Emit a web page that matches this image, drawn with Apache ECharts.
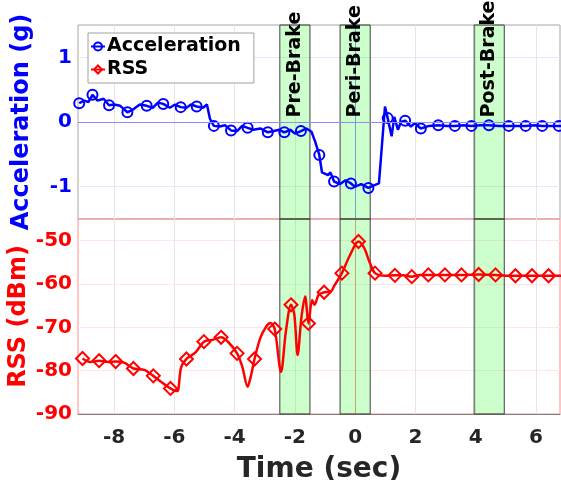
<!DOCTYPE html>
<html>
<head>
<meta charset="utf-8">
<script src="https://cdn.jsdelivr.net/npm/echarts@6/dist/echarts.min.js"></script>
<style>
  html, body { margin: 0; padding: 0; background: #fff; }
  #main { width: 561px; height: 480px; }
</style>
</head>
<body>
<div id="main"></div>
<script>
// acceleration trace (g), 1 = point carries a marker
var accT = [-9.16, -9.0, -8.85, -8.72, -8.55, -8.35, -8.17, -8.0, -7.8, -7.56, -7.35, -7.15, -6.92, -6.72, -6.55, -6.37,
  -6.15, -5.98, -5.79, -5.6, -5.45, -5.26, -5.05, -4.92, -4.82, -4.69, -4.5, -4.32, -4.12, -3.92, -3.75, -3.57,
  -3.38, -3.15, -2.9, -2.7, -2.52, -2.35, -2.15, -2.0, -1.8, -1.62, -1.45, -1.33, -1.19, -1.1, -0.9, -0.82,
  -0.7, -0.5, -0.32, -0.14, 0.0, 0.2, 0.44, 0.62, 0.79, 0.99, 1.08, 1.21, 1.3, 1.42, 1.52, 1.66, 1.85, 1.98,
  2.18, 2.45, 2.76, 3.05, 3.31, 3.6, 3.86, 4.15, 4.44, 4.78, 5.1, 5.38, 5.66, 5.95, 6.21, 6.5, 6.76, 6.9];
var accV = [0.29, 0.33, 0.31, 0.42, 0.33, 0.36, 0.26, 0.27, 0.25, 0.15, 0.2, 0.27, 0.25, 0.22, 0.3, 0.28,
  0.22, 0.27, 0.23, 0.22, 0.27, 0.24, 0.22, 0.27, 0.05, -0.06, -0.07, -0.05, -0.13, -0.14, -0.06, -0.09,
  -0.12, -0.1, -0.16, -0.14, -0.12, -0.16, -0.12, -0.18, -0.14, -0.1, -0.15, -0.3, -0.51, -0.78, -0.82, -0.78,
  -0.92, -0.96, -0.9, -0.95, -1.0, -0.96, -1.02, -0.98, -0.95, 0.24, 0.06, -0.22, 0.08, -0.12, 0.0, 0.02, -0.07, -0.02,
  -0.1, -0.06, -0.05, -0.06, -0.06, -0.05, -0.06, -0.05, -0.05, -0.06, -0.06, -0.06, -0.06, -0.05, -0.06, -0.06, -0.06, -0.06];
var accMark = [1, 0, 0, 1, 0, 0, 1, 0, 0, 1, 0, 0, 1, 0, 0, 1,
  0, 0, 1, 0, 0, 1, 0, 0, 0, 1, 0, 0, 1, 0, 0, 1,
  0, 0, 1, 0, 0, 1, 0, 0, 1, 0, 0, 0, 1, 0, 0, 0,
  1, 0, 0, 1, 0, 0, 1, 0, 0, 0, 1, 0, 0, 0, 0, 1, 0, 0,
  1, 0, 1, 0, 1, 0, 1, 0, 1, 0, 1, 0, 1, 0, 1, 0, 1, 0];

// received signal strength (dBm)
var rssT = [-9.05, -8.8, -8.5, -8.2, -7.95, -7.65, -7.36, -7.0, -6.7, -6.4, -6.13, -5.95, -5.88, -5.78, -5.6, -5.3,
  -5.02, -4.75, -4.45, -4.2, -3.92, -3.75, -3.57, -3.47, -3.34, -3.15, -2.95, -2.81, -2.67, -2.46, -2.3, -2.13,
  -2.02, -1.91, -1.78, -1.66, -1.55, -1.43, -1.35, -1.21, -1.03, -0.8, -0.7, -0.44, -0.17, 0.11, 0.3, 0.48,
  0.66, 1.0, 1.32, 1.6, 1.88, 2.15, 2.43, 2.98, 3.53, 4.1, 4.66, 5.0, 5.32, 5.87, 6.42, 6.9];
var rssV = [-77.2, -78.0, -77.7, -78.0, -77.9, -78.2, -79.5, -79.8, -81.2, -82.8, -84.1, -84.7, -84.6, -79.3, -77.3, -75.8,
  -73.3, -72.9, -72.3, -73.5, -76.0, -79.0, -83.7, -81.5, -77.3, -72.5, -69.8, -69.0, -70.4, -80.3, -71.0, -64.8,
  -67.0, -76.4, -67.5, -62.9, -69.1, -63.7, -64.8, -62.5, -61.9, -61.7, -60.5, -57.5, -53.3, -50.2, -51.7, -55.0,
  -57.5, -58.1, -58.0, -58.0, -58.3, -57.9, -57.9, -57.9, -57.9, -57.8, -57.9, -58.1, -58.1, -58.1, -58.1, -58.1];
var rssMark = [1, 0, 1, 0, 1, 0, 1, 0, 1, 0, 1, 0, 0, 0, 1, 0,
  1, 0, 1, 0, 1, 0, 0, 0, 1, 0, 0, 0, 1, 0, 0, 1,
  0, 0, 0, 0, 1, 0, 0, 0, 1, 0, 0, 1, 0, 1, 0, 0,
  1, 0, 1, 0, 1, 0, 1, 1, 1, 1, 1, 0, 1, 1, 1, 0];

// braking phases
var bandNames = ['Pre-Brake', 'Peri-Brake', 'Post-Brake'];
var bandStart = [-2.5, -0.5, 3.95];
var bandEnd = [-1.5, 0.5, 4.95];

var xTicks = [-8, -6, -4, -2, 0, 2, 4, 6];
var accTicks = [-1, 0, 1];
var rssTicks = [-90, -80, -70, -60, -50];

var FONT = 'DejaVu Sans';
var myChart = echarts.init(document.getElementById('main'));

function points(t, v, m, sym) {
    var out = [];
    for (var i = 0; i < t.length; i++) {
        out.push({ value: [t[i], v[i]], symbol: m[i] ? sym : 'none' });
    }
    return out;
}

var bandAreas = bandNames.map(function (n, i) {
    return [{ xAxis: bandStart[i] }, { xAxis: bandEnd[i] }];
});
var bandLabels = bandNames.map(function (n, i) {
    return { value: [(bandStart[i] + bandEnd[i]) / 2, 0.07], name: n };
});

var bandStyle = {
    silent: true,
    itemStyle: { color: 'rgba(0,255,0,0.2)', borderColor: '#404040', borderWidth: 1, opacity: 1 },
    label: { show: false },
    data: bandAreas
};

var xCommon = {
    type: 'value', min: -9.2, max: 6.8,
    axisTick: { show: false, customValues: xTicks },
    splitLine: { show: true, lineStyle: { color: '#e6e6e6', width: 1 } }
};

var option = {
    backgroundColor: '#fff',
    animation: false,
    grid: [
        { left: 78, right: 1, top: 25, height: 194, show: true, borderColor: '#a6a6a6', borderWidth: 1, outerBoundsMode: 'none' },
        { left: 78, right: 1, top: 219, height: 195, show: true, borderColor: '#ff8c8c', borderWidth: 1, outerBoundsMode: 'none' }
    ],
    legend: {
        left: 88, top: 33, orient: 'vertical',
        data: ['Acceleration', 'RSS'],
        backgroundColor: '#fff', borderColor: '#a0a0a0', borderWidth: 1,
        padding: [4, 13, 4, 2], itemGap: 4, itemWidth: 14, itemHeight: 10,
        textStyle: { fontFamily: FONT, fontWeight: 'bold', fontSize: 19, color: '#000', padding: [0, 0, 0, -3] }
    },
    xAxis: [
        Object.assign({}, xCommon, {
            gridIndex: 0,
            axisLine: { show: false },
            axisLabel: { show: false, customValues: xTicks }
        }),
        Object.assign({}, xCommon, {
            gridIndex: 1,
            axisLine: { show: true, lineStyle: { color: '#808080', width: 1 } },
            axisLabel: { customValues: xTicks, fontFamily: FONT, fontWeight: 'bold', fontSize: 20, color: '#262626', margin: 14 },
            name: 'Time (sec)', nameLocation: 'middle', nameGap: 42, nameMoveOverlap: false,
            nameTextStyle: { fontFamily: FONT, fontWeight: 'bold', fontSize: 28, color: '#262626' }
        })
    ],
    yAxis: [
        {
            type: 'value', gridIndex: 0, min: -1.5, max: 1.5,
            axisLine: { show: true, lineStyle: { color: '#8c8cff', width: 1 } },
            axisTick: { show: false, customValues: accTicks },
            axisLabel: { customValues: accTicks, fontFamily: FONT, fontWeight: 'bold', fontSize: 20, color: '#0000ff', margin: 6 },
            splitLine: { show: true, lineStyle: { color: '#e6e6ff' } },
            name: 'Acceleration (g)', nameLocation: 'middle', nameGap: 44, nameMoveOverlap: false,
            nameTextStyle: { fontFamily: FONT, fontWeight: 'bold', fontSize: 24, color: '#0000ff' }
        },
        {
            type: 'value', gridIndex: 1, min: -90, max: -45,
            axisLine: { show: true, lineStyle: { color: '#ff8c8c', width: 1 } },
            axisTick: { show: false, customValues: rssTicks },
            axisLabel: { customValues: rssTicks, fontFamily: FONT, fontWeight: 'bold', fontSize: 20, color: '#ff0000', margin: 6 },
            splitLine: { show: true, lineStyle: { color: '#ffe6e6' } },
            name: 'RSS (dBm)', nameLocation: 'middle', nameGap: 47, nameMoveOverlap: false,
            nameTextStyle: { fontFamily: FONT, fontWeight: 'bold', fontSize: 24, color: '#ff0000' }
        }
    ],
    series: [
        {
            name: 'bands-top', type: 'scatter', xAxisIndex: 0, yAxisIndex: 0, z: 1,
            symbolSize: 0, silent: true,
            itemStyle: { opacity: 1 },
            data: bandLabels,
            label: {
                show: true, position: [0, 0], rotate: 90, align: 'left', verticalAlign: 'middle',
                formatter: '{b}', fontFamily: FONT, fontWeight: 'bold', fontSize: 19, color: '#000'
            },
            markArea: bandStyle
        },
        {
            name: 'bands-bottom', type: 'scatter', xAxisIndex: 1, yAxisIndex: 1, z: 1,
            silent: true, data: [],
            markArea: bandStyle
        },
        {
            name: 'Acceleration', type: 'line', xAxisIndex: 0, yAxisIndex: 0, z: 3,
            data: points(accT, accV, accMark, 'circle'),
            symbol: 'circle', symbolSize: 10, showAllSymbol: true,
            lineStyle: { color: '#0000ff', width: 2.5 },
            itemStyle: { color: 'rgba(0,0,0,0)', borderColor: '#0000ff', borderWidth: 2 },
            markLine: {
                silent: true, symbol: 'none', label: { show: false },
                lineStyle: { color: '#8c8cff', width: 1, type: 'solid' },
                data: [{ yAxis: 0 }]
            }
        },
        {
            name: 'RSS', type: 'line', xAxisIndex: 1, yAxisIndex: 1, z: 3,
            data: points(rssT, rssV, rssMark, 'diamond'),
            symbol: 'diamond', symbolSize: 13, showAllSymbol: true, smooth: 0.3,
            lineStyle: { color: '#ff0000', width: 2.5 },
            itemStyle: { color: 'rgba(0,0,0,0)', borderColor: '#ff0000', borderWidth: 2 }
        }
    ]
};
myChart.setOption(option);
</script>
</body>
</html>
